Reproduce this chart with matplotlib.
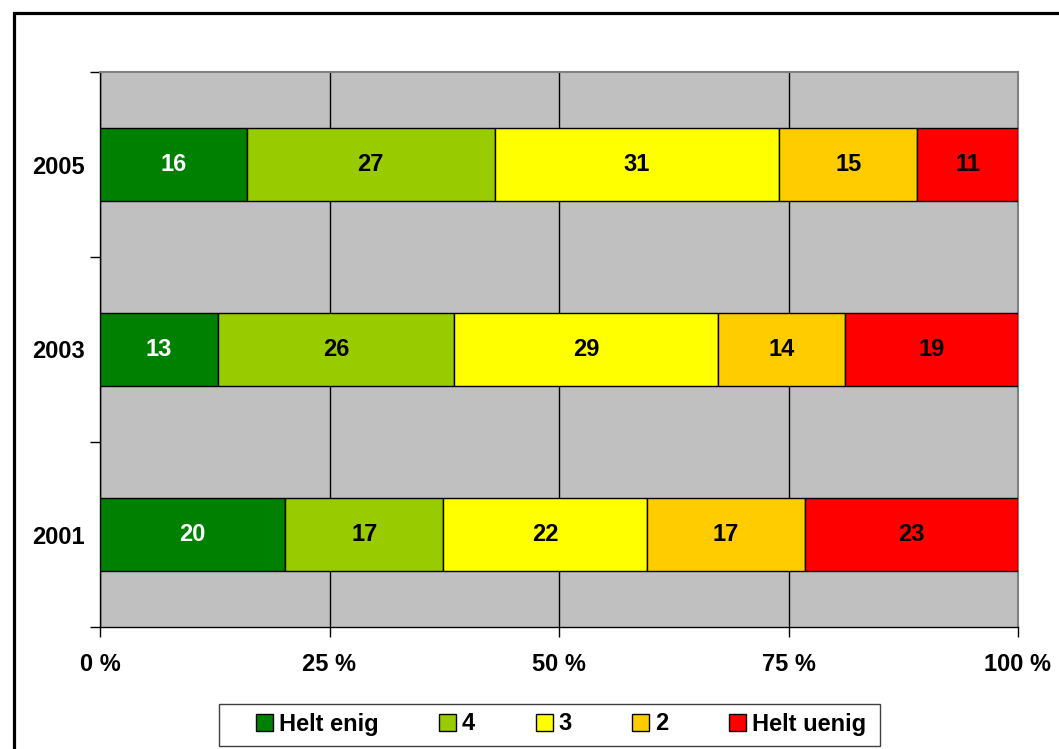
import matplotlib
matplotlib.use("Agg")
import matplotlib.pyplot as plt
from matplotlib.patches import Rectangle
import numpy as np

plt.rcParams['font.family'] = ['Liberation Sans', 'DejaVu Sans']
plt.rcParams['font.weight'] = 'bold'

years = ["2001", "2003", "2005"]
series = ["Helt enig", "4", "3", "2", "Helt uenig"]
values = {
    "Helt enig":  [20, 13, 16],
    "4":          [17, 26, 27],
    "3":          [22, 29, 31],
    "2":          [17, 14, 15],
    "Helt uenig": [23, 19, 11],
}
colors = ["#008000", "#99CC00", "#FFFF00", "#FFCC00", "#FF0000"]
text_colors = ["white", "black", "black", "black", "black"]
x_ticks = [0, 25, 50, 75, 100]
x_labels = ["0 %", "25 %", "50 %", "75 %", "100 %"]

W, H = 1059, 749
fig = plt.figure(figsize=(W / 100, H / 100), dpi=100)

# outer chart frame
fig.patches.append(Rectangle((13.5 / W, -0.1), 1.2, (H - 13.5) / H + 0.1,
                             transform=fig.transFigure, fill=False,
                             edgecolor="black", linewidth=2.3, zorder=10))

ax = fig.add_axes([100 / W, (H - 627) / H, 918 / W, 555 / H])
ax.set_facecolor("#C0C0C0")

data = np.array([values[s] for s in series], dtype=float)
totals = data.sum(axis=0)
shares = data / totals * 100
ypos = np.arange(len(years))
left = np.zeros(len(years))
for i, s in enumerate(series):
    bars = ax.barh(ypos, shares[i], left=left, height=0.39, color=colors[i],
                   edgecolor="black", linewidth=1.0, label=s, zorder=3)
    for j, b in enumerate(bars):
        ax.text(left[j] + shares[i][j] / 2, ypos[j], f"{int(data[i][j])}",
                ha="center", va="center", fontsize=17, fontweight="bold",
                color=text_colors[i], zorder=4)
    left += shares[i]

ax.set_xlim(0, 100)
ax.set_ylim(-0.5, 2.5)
ax.set_xticks(x_ticks)
ax.set_xticklabels(x_labels, fontsize=17, fontweight="bold")
ax.set_yticks(ypos)
ax.set_yticklabels(years, fontsize=17, fontweight="bold")
ax.set_yticks(np.arange(-0.5, 3.0, 1.0), minor=True)
ax.tick_params(axis="y", which="major", length=0, pad=11)
ax.tick_params(axis="y", which="minor", length=7, width=1, color="black", direction="out")
ax.tick_params(axis="x", which="major", length=7, width=1, color="black",
               direction="out", pad=12)
ax.xaxis.grid(True, color="black", linewidth=1.0, zorder=1)
ax.set_axisbelow(True)

for side in ("top", "right"):
    ax.spines[side].set_color("#808080")
    ax.spines[side].set_linewidth(1.5)
ax.spines["left"].set_color("black")
ax.spines["bottom"].set_color("black")
ax.spines["left"].set_linewidth(1.0)
ax.spines["bottom"].set_linewidth(1.0)

# legend entries without their own frame; a separate box surrounds them
leg = fig.legend(loc="center", bbox_to_anchor=(561 / W, (H - 724) / H),
                 ncol=5, frameon=False,
                 prop={"size": 17, "weight": "bold"},
                 handlelength=0.72, handleheight=0.72, handletextpad=0.25,
                 columnspacing=2.57, borderpad=0.0, borderaxespad=0)
for h in leg.legend_handles:
    h.set_edgecolor("black")
fig.patches.append(Rectangle((219 / W, (H - 746) / H), 661 / W, 42 / H,
                             transform=fig.transFigure, fill=True,
                             facecolor="white", edgecolor="#404040",
                             linewidth=1.0, zorder=1))

fig.savefig("out.png", dpi=100)
